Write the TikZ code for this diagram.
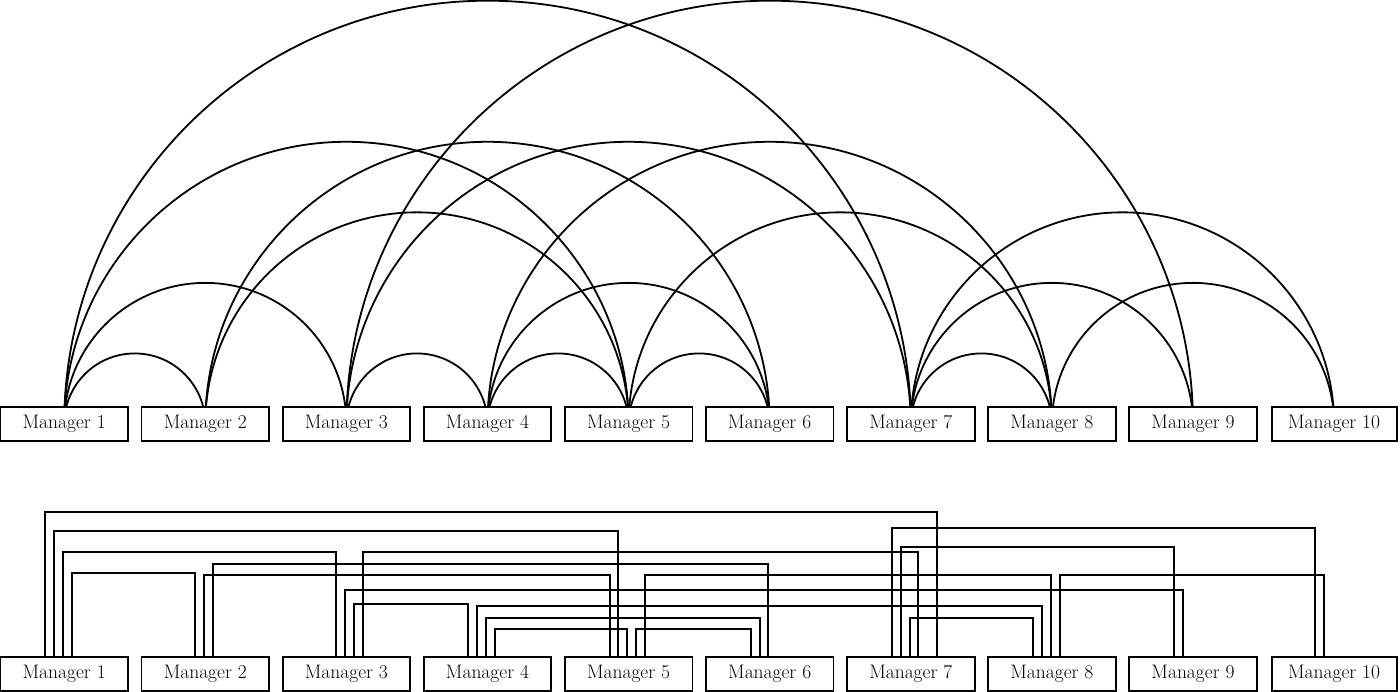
\documentclass[tikz,border=0pt]{standalone}
\usetikzlibrary{backgrounds,calc}
\tikzset{
  mgr/.style={draw, line width=1.8pt, fill=white, minimum height=33.4pt,
    inner sep=0pt, font=\fontsize{19.5pt}{23pt}\selectfont},
  link/.style={line width=2pt},
}
\begin{document}
\begin{tikzpicture}[x=1pt,y=1pt]
\useasboundingbox (0,0) rectangle (1400,692);
% boxes
\foreach \i in {1,...,10} {
  \node[mgr, minimum width={ifthenelse(\i==10,125,127.6)}] (t\i) at ({64.2+141.1*(\i-1)},268) {Manager \i};
  \node[mgr, minimum width={ifthenelse(\i==10,125,127.6)}] (b\i) at ({64.2+141.1*(\i-1)},18) {Manager \i};
}
% top: semicircular arcs between box centres
\begin{scope}[on background layer]
\foreach \a/\b in {1/2,3/4,4/5,5/6,7/8,1/3,4/6,7/9,8/10,2/5,5/8,7/10,1/5,2/6,3/7,4/8,1/7,3/9}
  \draw[link, line width=1.8pt] let \p1=(t\a.center), \p2=(t\b.center), \n1={(\x2-\x1)/2} in
    (\p1) arc[start angle=180, end angle=0, radius=\n1];
\end{scope}
% bottom: orthogonal connectors
\foreach \a/\oa/\b/\ob/\h in {
  1/-19.1/7/25.8/144,
  1/-10.2/5/-10.2/125,
  1/-1.3/3/-10.2/104,
  1/7.6/2/-10.2/83.3,
  2/-1.3/5/-19.1/81.3,
  2/7.6/6/-1.3/92.3,
  3/-1.3/9/-10.2/66.6,
  3/7.6/4/-19.1/52.3,
  3/16.5/7/7.6/104.6,
  4/-10.2/8/-10.2/50.6,
  4/-1.3/6/-10.2/38.3,
  4/7.6/5/-1.3/27.3,
  5/7.6/6/-19.1/27.3,
  5/16.5/8/-1.3/81.3,
  7/-19.1/10/-19.1/128.3,
  7/-10.2/9/-19.1/109.6,
  7/-1.3/8/-19.1/38.3,
  8/7.6/10/-10.2/81.3}
  \draw[link] ([xshift=\oa]b\a.north) -- ++(0,\h) -| ([xshift=\ob]b\b.north);
\end{tikzpicture}
\end{document}
